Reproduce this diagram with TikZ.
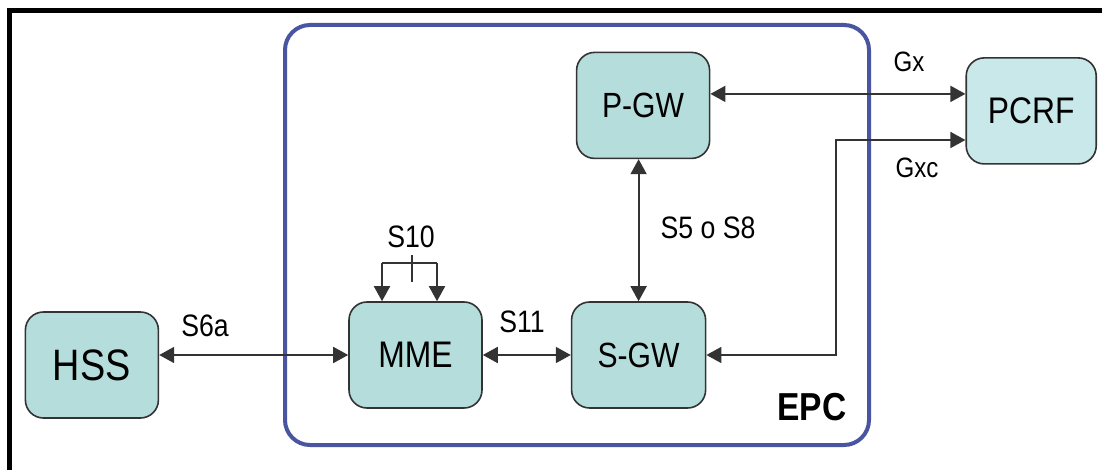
\documentclass[tikz,border=0pt]{standalone}
\usepackage{fontspec}
\setmainfont{Liberation Sans}[FakeStretch=0.86]
\usetikzlibrary{positioning,arrows.meta}

\definecolor{boxfill}{HTML}{B4DDDB}
\definecolor{pcrffill}{HTML}{C8E8EA}
\definecolor{epcblue}{HTML}{4A55A2}
\definecolor{linegray}{HTML}{333333}

\begin{document}
\begin{tikzpicture}[x=0.5pt,y=-0.5pt,
entity/.style={rectangle, rounded corners=9pt, draw=linegray, line width=0.8pt, fill=boxfill, minimum width=66.5pt, minimum height=53pt, inner sep=0pt, font=\fontsize{18.5}{20}\selectfont},
external/.style={entity, fill=pcrffill, minimum width=65pt},
link/.style={draw=linegray, line width=0.9pt, {Triangle[length=7.5pt,width=8pt]}-{Triangle[length=7.5pt,width=8pt]}},
feed/.style={draw=linegray, line width=0.9pt, -{Triangle[length=7.5pt,width=8pt]}},
tag/.style={font=\fontsize{15.5}{17}\selectfont}
]
\useasboundingbox (0,0) rectangle (1102,470);
% outer frame
\draw[line width=2.5pt] (9.5,472) -- (9.5,11) -- (1104,11);
% EPC domain
\draw[epcblue, line width=2pt, rounded corners=12.5pt] (285,25) rectangle (869,445);
\node[font=\bfseries\fontsize{19.5}{21}\selectfont](epc_label) at (812,407){EPC};

\node[entity](mme) at (415.5,355){MME};
\node[entity, font=\fontsize{22}{24}\selectfont](hss)[left=94.5pt of mme,yshift=-5pt]{HSS};
\node[entity, minimum width=67pt, font=\fontsize{17.5}{19}\selectfont](sgw)[right=44pt of mme]{S-GW};
\node[entity, font=\fontsize{17.5}{19}\selectfont](pgw)[above=71pt of sgw,xshift=2.25pt]{P-GW};
\node[external](pcrf)[right=127.5pt of pgw,yshift=-2.75pt]{PCRF};

\coordinate (s10_left) at (382,263);
\coordinate (s10_right) at (437,263);
\coordinate (gxc_bend) at (836,140);

\draw[link] (hss.east |- mme.west) -- (mme.west);
\draw[link] (mme.east) -- (sgw.west);
\draw[link] (sgw.north) -- (sgw.north |- pgw.south);
\draw[link] ([yshift=5.75pt]pgw.east) -- ([yshift=5.75pt]pgw.east -| pcrf.west);
\draw[link] (sgw.east) -- (sgw.east -| gxc_bend) -- (gxc_bend) -- (gxc_bend -| pcrf.west);

% S10 loop on the MME
\draw[draw=linegray, line width=0.9pt] (s10_left) -- (s10_right);
\draw[draw=linegray, line width=0.9pt] (412,255) -- (412,282);
\draw[feed] (s10_left) -- (s10_left |- mme.north);
\draw[feed] (s10_right) -- (s10_right |- mme.north);

\node[tag](s6a_label) at (205,326){S6a};
\node[tag](s10_label) at (411,237){S10};
\node[tag](s11_label) at (522,322){S11};
\node[tag](s5_label) at (708,228){S5 o S8};
\node[tag, font=\fontsize{14}{16}\selectfont](gx_label) at (909,62){Gx};
\node[tag, font=\fontsize{14}{16}\selectfont](gxc_label) at (917,168){Gxc};
\end{tikzpicture}
\end{document}
